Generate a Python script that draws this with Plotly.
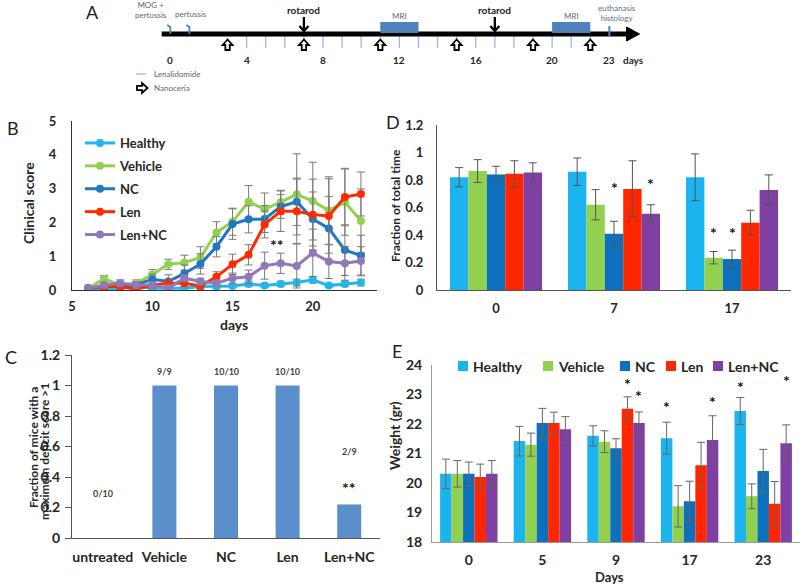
import plotly.graph_objects as go

W, H = 800, 585
def px(x): return x / W
def py(y): return 1 - y / H

# ---------------- DATA ----------------
# Panel A - experimental timeline (days)
timeline_tick_days = [0, 4, 8, 12, 16, 20, 23]
lenalidomide_days = list(range(4, 23))
nanoceria_days = [3, 7, 11, 15, 19, 22]
rotarod_days = [7, 17]
mri_start = [11, 20]
mri_end = [13, 22]
mog_day = 0
pertussis_day = 1
euthanasia_day = 23

groups = ["Healthy", "Vehicle", "NC", "Len", "Len+NC"]

# Panel B - clinical score
score_days = list(range(6, 24))
score_healthy = [0.05, 0.02, 0.05, 0.1, 0.05, 0.05, 0.05, 0.1, 0.1, 0.12, 0.18, 0.13, 0.18, 0.22, 0.3, 0.13, 0.18, 0.22]
score_vehicle = [0.05, 0.33, 0.15, 0.2, 0.46, 0.76, 0.81, 0.96, 1.7, 2.02, 2.61, 2.39, 2.6, 2.83, 2.63, 2.35, 2.6, 2.04]
score_nc      = [0.05, 0.1, 0.1, 0.15, 0.32, 0.25, 0.49, 0.77, 1.28, 1.95, 2.09, 2.1, 2.47, 2.61, 2.1, 1.82, 1.18, 1.02]
score_len     = [0.05, 0.1, 0.1, 0.02, 0.15, 0.2, 0.2, 0.12, 0.39, 0.76, 1.04, 1.94, 2.33, 2.33, 2.23, 2.19, 2.75, 2.84]
score_lennc   = [0.05, 0.15, 0.2, 0.15, 0.15, 0.05, 0.35, 0.25, 0.2, 0.35, 0.39, 0.72, 0.79, 0.71, 1.1, 0.84, 0.79, 0.86]
err_healthy = [0.03, 0.03, 0.03, 0.05, 0.05, 0.05, 0.05, 0.05, 0.05, 0.05, 0.08, 0.05, 0.08, 0.1, 0.1, 0.05, 0.08, 0.1]
err_vehicle = [0.05, 0.1, 0.1, 0.1, 0.15, 0.15, 0.22, 0.32, 0.32, 0.4, 0.48, 0.48, 0.35, 1.2, 1.15, 1.0, 0.98, 0.95]
err_nc      = [0.05, 0.1, 0.1, 0.1, 0.15, 0.2, 0.25, 0.3, 0.3, 0.45, 0.4, 0.4, 0.35, 0.7, 0.8, 0.95, 0.75, 0.6]
err_len     = [0.05, 0.05, 0.05, 0.05, 0.1, 0.1, 0.1, 0.1, 0.15, 0.3, 0.3, 0.4, 0.6, 0.95, 1.05, 1.1, 0.85, 0.65]
err_lennc   = [0.05, 0.05, 0.1, 0.1, 0.1, 0.1, 0.1, 0.1, 0.1, 0.15, 0.2, 0.4, 0.3, 0.65, 0.7, 0.5, 0.5, 0.42]

# Panel C - fraction of mice with max deficit score > 1
c_categories = ["untreated", "Vehicle", "NC", "Len", "Len+NC"]
c_values = [0, 1, 1, 1, 0.22]
c_counts = ["0/10", "9/9", "10/10", "10/10", "2/9"]

# Panel D - rotarod, fraction of total time
d_days = ["0", "7", "17"]
d_healthy = [0.82, 0.86, 0.82]
d_vehicle = [0.865, 0.62, 0.235]
d_nc      = [0.84, 0.41, 0.225]
d_len     = [0.845, 0.735, 0.49]
d_lennc   = [0.855, 0.555, 0.727]
d_err_healthy = [0.07, 0.1, 0.17]
d_err_vehicle = [0.083, 0.11, 0.045]
d_err_nc      = [0.06, 0.09, 0.065]
d_err_len     = [0.095, 0.205, 0.09]
d_err_lennc   = [0.07, 0.065, 0.11]

# Panel E - weight
e_days = ["0", "5", "9", "17", "23"]
e_healthy = [20.31, 21.42, 21.6, 21.52, 22.44]
e_vehicle = [20.31, 21.3, 21.4, 19.21, 19.55]
e_nc      = [20.31, 22.03, 21.18, 19.38, 20.41]
e_len     = [20.2, 22.03, 22.52, 20.6, 19.3]
e_lennc   = [20.31, 21.82, 22.03, 21.46, 21.35]
e_err_healthy = [0.5, 0.5, 0.34, 0.54, 0.46]
e_err_vehicle = [0.45, 0.39, 0.37, 0.7, 0.42]
e_err_nc      = [0.4, 0.5, 0.32, 0.68, 0.73]
e_err_len     = [0.44, 0.37, 0.4, 0.78, 0.75]
e_err_lennc   = [0.45, 0.43, 0.38, 0.82, 0.62]

# significance markers: (category, bar index in group, y, text)
b_sig = [(17.8, 1.36, "**")]
d_sig = [("7", 2, 0.745, "*"), ("7", 4, 0.775, "*"), ("17", 1, 0.415, "*"), ("17", 2, 0.415, "*")]
e_sig = [("9", 3, 23.38, "*"), ("9", 4, 22.98, "*"), ("17", 0, 22.59, "*"), ("17", 4, 22.76, "*"),
         ("23", 0, 23.27, "*"), ("23", 4, 23.49, "*")]

# ---------------- STYLE ----------------
FONT = "Lato"
TXT = "#262626"
line_colors = ["#22B6EE", "#92D050", "#1F78C1", "#FF2B00", "#9079B8"]
bar_colors = ["#1BB4EE", "#92D050", "#0C70BD", "#FF2600", "#7F3FA3"]
c_color = "#5B8FCC"
ERR = "#7a7a7a"

fig = go.Figure()

# ---- Panel B ----
b_vals = [score_healthy, score_vehicle, score_nc, score_len, score_lennc]
b_errs = [err_healthy, err_vehicle, err_nc, err_len, err_lennc]
for name, vals, errs, col in zip(groups, b_vals, b_errs, line_colors):
    fig.add_trace(go.Scatter(
        x=score_days, y=vals, mode="lines+markers", name=name, legendgroup=name,
        line=dict(color=col, width=3), marker=dict(size=8, color=col),
        error_y=dict(type="data", array=errs, color=ERR, thickness=1, width=4),
        xaxis="x", yaxis="y", legend="legend"))

# ---- Panel D ----
d_vals = [d_healthy, d_vehicle, d_nc, d_len, d_lennc]
d_errs = [d_err_healthy, d_err_vehicle, d_err_nc, d_err_len, d_err_lennc]
for name, vals, errs, col in zip(groups, d_vals, d_errs, bar_colors):
    fig.add_trace(go.Bar(
        x=d_days, y=vals, name=name, marker=dict(color=col, line=dict(width=0)),
        error_y=dict(type="data", array=errs, color="#555555", thickness=1, width=4),
        xaxis="x2", yaxis="y2", showlegend=False))

# ---- Panel C ----
fig.add_trace(go.Bar(
    x=c_categories, y=c_values, width=0.39,
    marker=dict(color=c_color, line=dict(width=0)),
    xaxis="x3", yaxis="y3", showlegend=False))

# ---- Panel E ----
e_vals = [e_healthy, e_vehicle, e_nc, e_len, e_lennc]
e_errs = [e_err_healthy, e_err_vehicle, e_err_nc, e_err_len, e_err_lennc]
for name, vals, errs, col in zip(groups, e_vals, e_errs, bar_colors):
    fig.add_trace(go.Bar(
        x=e_days, y=vals, name=name, marker=dict(color=col, line=dict(width=0)),
        error_y=dict(type="data", array=errs, color="#666666", thickness=1, width=4),
        xaxis="x4", yaxis="y4", showlegend=False))

# ---- Panel A (invisible axes) ----
fig.add_trace(go.Scatter(x=[None], y=[None], xaxis="x5", yaxis="y5", showlegend=False))

shapes = []
annotations = []

def ann(text, x, y, size=12, bold=False, color=TXT, xref="paper", yref="paper", **kw):
    d = dict(text=text, x=x, y=y, xref=xref, yref=yref, showarrow=False,
             xanchor="center", yanchor="middle",
             font=dict(family=FONT, size=size, color=color, weight="bold" if bold else "normal"))
    d.update(kw)
    annotations.append(d)

# Timeline
LINE_Y = 34
shapes.append(dict(type="line", xref="x5", yref="paper", x0=-0.45, x1=23.9,
                   y0=py(LINE_Y), y1=py(LINE_Y), line=dict(color="black", width=5)))
shapes.append(dict(type="path", xref="x5", yref="paper", xsizemode="pixel", ysizemode="pixel",
                   xanchor=23.9, yanchor=py(LINE_Y), path="M 0 -7 L 13 0 L 0 7 Z",
                   fillcolor="black", line=dict(color="black", width=1)))
for d in lenalidomide_days:
    shapes.append(dict(type="line", xref="x5", yref="paper", x0=d, x1=d,
                       y0=py(LINE_Y), y1=py(LINE_Y + 14), line=dict(color="#9dbbe0", width=1.3),
                       layer="below"))
for a, b in zip(mri_start, mri_end):
    shapes.append(dict(type="rect", xref="x5", yref="paper", x0=a, x1=b,
                       y0=py(LINE_Y - 1), y1=py(22), fillcolor="#4f81bd", line=dict(width=0)))
    ann("MRI", (a + b) / 2, py(16), size=8, color="#666666", xref="x5")
for d in nanoceria_days:
    shapes.append(dict(type="path", xref="x5", yref="paper", xsizemode="pixel", ysizemode="pixel",
                       xanchor=d, yanchor=py(45),
                       path="M -2.2 -5 L 2.2 -5 L 2.2 0 L 5 0 L 0 5.5 L -5 0 L -2.2 0 Z",
                       fillcolor="white", line=dict(color="black", width=1.8)))
for d in rotarod_days:
    shapes.append(dict(type="path", xref="x5", yref="paper", xsizemode="pixel", ysizemode="pixel",
                       xanchor=d, yanchor=py(31),
                       path="M 0 14 L 0 0 M -4.5 5 L 0 0 L 4.5 5",
                       line=dict(color="black", width=2.3)))
    ann("rotarod", d, py(10), size=10, bold=True, color="#222222", xref="x5")
for d in [mog_day, pertussis_day]:
    shapes.append(dict(type="path", xref="x5", yref="paper", xsizemode="pixel", ysizemode="pixel",
                       xanchor=d, yanchor=py(LINE_Y),
                       path="M -3 9 L 0 7 L 0 0", line=dict(color="#4f81bd", width=1.8)))
shapes.append(dict(type="line", xref="x5", yref="paper", x0=euthanasia_day, x1=euthanasia_day,
                   y0=py(37), y1=py(26), line=dict(color="#4f81bd", width=2)))
ann("MOG +<br>pertussis", mog_day, py(10), size=8, color="#666666", xref="x5", xshift=-19)
ann("pertussis", pertussis_day, py(14), size=8, color="#666666", xref="x5", xshift=2)
ann("euthanasis<br>histology", euthanasia_day, py(13), size=8, color="#5a6f8a", xref="x5", xshift=8)
for t in timeline_tick_days:
    ann(str(t), t, py(60), size=10, bold=True, xref="x5")
ann("days", timeline_tick_days[-1], py(60), size=10, bold=True, xref="x5", xshift=24)
# timeline legend
shapes.append(dict(type="line", xref="paper", yref="paper", x0=px(136), x1=px(146),
                   y0=py(74), y1=py(74), line=dict(color="#9dbbe0", width=1.3)))
ann("Lenalidomide", px(152), py(74), size=8, color="#666666", xanchor="left")
shapes.append(dict(type="path", xref="paper", yref="paper", xsizemode="pixel", ysizemode="pixel",
                   xanchor=px(142), yanchor=py(88),
                   path="M -5 -2.2 L 0 -2.2 L 0 -5 L 5.5 0 L 0 5 L 0 2.2 L -5 2.2 Z",
                   fillcolor="white", line=dict(color="black", width=1.8)))
ann("Nanoceria", px(152), py(88), size=8, color="#666666", xanchor="left")

# Panel letters
for letter, x, y in [("A", 92, 12), ("B", 13, 128), ("C", 11, 357), ("D", 393, 122), ("E", 397, 351)]:
    ann(letter, px(x), py(y), size=18, color="#222222")

# Axis titles
ann("Clinical score", px(28), py(203), size=14, bold=True, textangle=-90)
ann("days", px(234), py(324), size=14, bold=True)
ann("Fraction of total time", px(395), py(206), size=12, bold=True, textangle=-90)
ann("Fraction of mice with a", px(33), py(448), size=12, bold=True, textangle=-90)
ann("maximum deficit score >1", px(44), py(452), size=12, bold=True, textangle=-90)
ann("Weight (gr)", px(394), py(436), size=14, bold=True, textangle=-90)
ann("Days", px(609), py(577), size=13, bold=True)

# Panel C counts
for i, (v, txt) in enumerate(zip(c_values, c_counts)):
    yv = v + 0.09 if v >= 0.5 else (0.295 if v == 0 else 0.57)
    ann(txt, i, yv, size=9, bold=True, color="#444444", xref="x3", yref="y3")
ann("**", len(c_categories) - 1, 0.33, size=16, bold=True, color="#111111", xref="x3", yref="y3")

# significance stars
for x, y, t in b_sig:
    ann(t, x, y, size=16, bold=True, color="#111111", xref="x", yref="y")
D_BAR_PX = 118 * 0.78 / 5
for cat, k, y, t in d_sig:
    ann(t, d_days.index(cat), y, size=16, bold=True, color="#111111", xref="x2", yref="y2",
        xshift=(k - 2) * D_BAR_PX)
E_BAR_PX = 73.6 * 0.78 / 5
for cat, k, y, t in e_sig:
    ann(t, e_days.index(cat), y, size=16, bold=True, color="#111111", xref="x4", yref="y4",
        xshift=(k - 2) * E_BAR_PX)

# Panel E manual legend
e_leg_x = [458, 543, 620, 666, 713]
for name, col, x in zip(groups, bar_colors, e_leg_x):
    shapes.append(dict(type="rect", xref="paper", yref="paper", x0=px(x), x1=px(x + 10),
                       y0=py(371), y1=py(361), fillcolor=col, line=dict(width=0)))
    ann(name, px(x + 13), py(366), size=14, bold=True, xanchor="left")

tickB = dict(family=FONT, size=13, color=TXT, weight="bold")
tick14 = dict(family=FONT, size=14, color=TXT, weight="bold")

common = dict(showgrid=False, zeroline=False, showline=True, linewidth=1, automargin=False)

fig.update_layout(
    width=W, height=H, margin=dict(l=0, r=0, t=0, b=0, autoexpand=False),
    paper_bgcolor="white", plot_bgcolor="rgba(0,0,0,0)",
    barmode="group", bargap=0.22, bargroupgap=0,
    font=dict(family=FONT, color=TXT),
    xaxis=dict(domain=[px(72), px(377)], range=[5, 24], tickvals=[5, 10, 15, 20], anchor="y",
               linecolor="#333333", tickfont=tickB, ticks="", ticklabelstandoff=4, **common),
    yaxis=dict(domain=[py(290), py(121)], range=[0, 5], dtick=1, anchor="x",
               linecolor="#333333", tickfont=tickB, ticks="", ticklabelstandoff=12, **common),
    xaxis2=dict(domain=[px(437), px(791)], type="category", range=[-0.5, 2.5], anchor="y2",
                linecolor="#555555", tickfont=tickB, ticks="", ticklabelstandoff=6, **common),
    yaxis2=dict(domain=[py(290), py(125)], range=[0, 1.2], dtick=0.2, anchor="x2",
                linecolor="#555555", tickfont=tickB, ticks="", ticklabelstandoff=10, **common),
    xaxis3=dict(domain=[px(72), px(380)], type="category", range=[-0.5, 4.5], anchor="y3",
                linecolor="#555555", tickfont=tick14, ticks="", ticklabelstandoff=6, **common),
    yaxis3=dict(domain=[py(538), py(355)], range=[0, 1.2], dtick=0.2, anchor="x3",
                linecolor="#555555", tickfont=tick14, ticks="outside", ticklen=6, tickcolor="#555555",
                ticklabelstandoff=2, **common),
    xaxis4=dict(domain=[px(432), px(800)], type="category", range=[-0.5, 4.5], anchor="y4",
                linecolor="#9a9a9a", tickfont=tick14, ticks="", ticklabelstandoff=5, **common),
    yaxis4=dict(domain=[py(542), py(365)], range=[18, 24], dtick=1, anchor="x4",
                linecolor="#9a9a9a", tickfont=tick14, ticks="", ticklabelstandoff=6, **common),
    xaxis5=dict(domain=[px(120), px(680)], range=[-2.635, 26.70], anchor="y5", visible=False,
                automargin=False),
    yaxis5=dict(domain=[py(100), py(0)], range=[0, 1], anchor="x5", visible=False, automargin=False),
    legend=dict(x=px(80), y=py(128), xanchor="left", yanchor="top", bgcolor="rgba(0,0,0,0)",
                font=dict(family=FONT, size=13, color=TXT, weight="bold"), itemwidth=30,
                tracegroupgap=3),
    shapes=shapes, annotations=annotations,
)

fig.write_html("out.html", config={"displayModeBar": False},
               post_script="document.body.style.margin='0';")
